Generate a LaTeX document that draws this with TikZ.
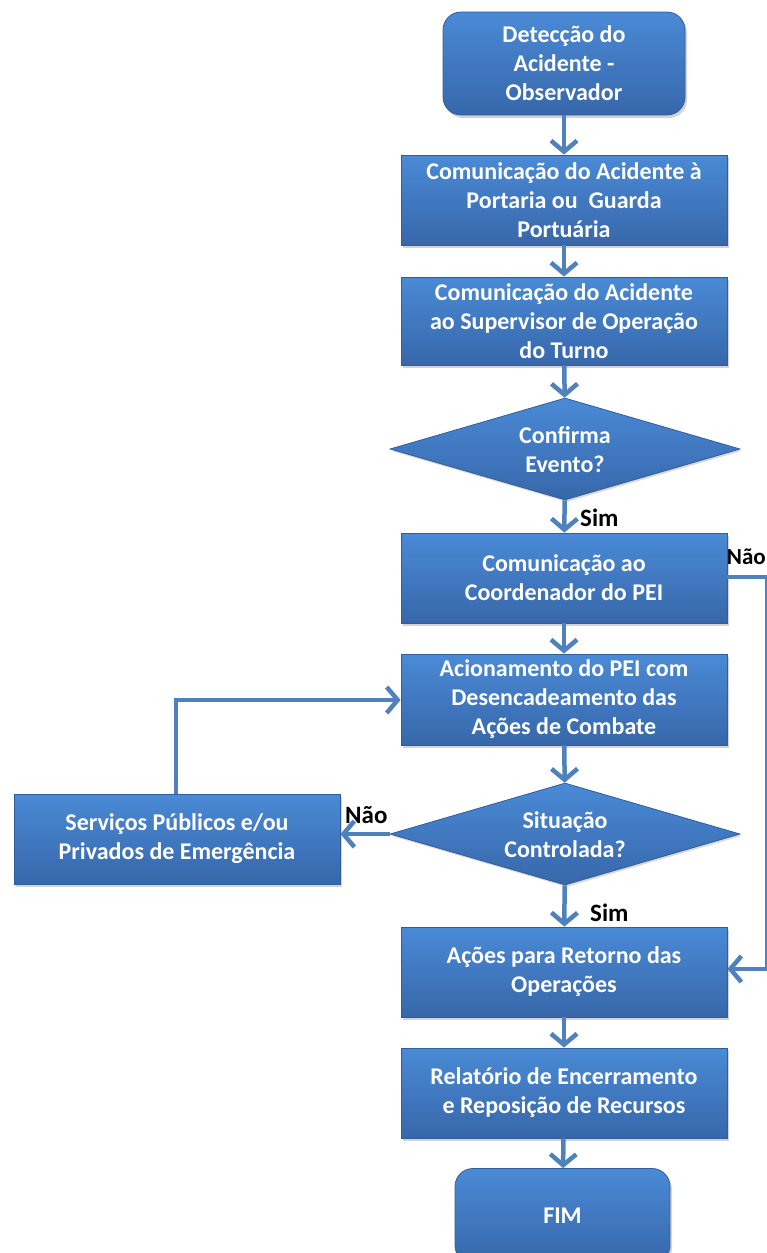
\documentclass[tikz,border=0pt]{standalone}
\usepackage{fontspec}
\setmainfont{Carlito}
\usetikzlibrary{arrows.meta,shapes.geometric,shadows}
\definecolor{boxtop}{HTML}{4A8AD6}
\definecolor{boxbot}{HTML}{3767AA}
\definecolor{boxedge}{HTML}{2F5E9E}
\definecolor{arrowblue}{HTML}{4F81BD}
\tikzset{
  flowbox/.style={rectangle, top color=boxtop, bottom color=boxbot, draw=boxedge, line width=0.8pt,
    text=white, font=\fontsize{24}{29}\selectfont\bfseries, align=center,
    minimum width=326pt, minimum height=90pt, inner sep=0pt,
    drop shadow={opacity=0.35, shadow xshift=2pt, shadow yshift=-3pt}},
  roundbox/.style={flowbox, rounded corners=18pt},
  decision/.style={diamond, top color=boxtop, bottom color=boxbot, draw=boxedge, line width=0.8pt,
    minimum width=350pt, minimum height=102pt, inner sep=0pt,
    drop shadow={opacity=0.3, shadow xshift=1.5pt, shadow yshift=-2pt}},
  dtext/.style={text=white, font=\fontsize{24}{29}\selectfont\bfseries, align=center, inner sep=0pt},
  flowarrow/.style={draw=arrowblue, line width=4.5pt, -{Straight Barb[length=11pt,width=26pt,line width=4.5pt]}},
  flowline/.style={draw=arrowblue, line width=4.5pt},
  lbl/.style={font=\fontsize{25}{28}\selectfont\bfseries, text=black, inner sep=0pt}
}
\begin{document}
\begin{tikzpicture}[x=1pt,y=-1pt]
\useasboundingbox (0,0) rectangle (766,1253);
\node[roundbox, minimum width=242pt, minimum height=103pt] (det) at (564,63.5) {Detecção do\\Acidente -\\Observador};
\node[flowbox] (port) at (564,200) {Comunicação do Acidente à\\Portaria ou\ \ Guarda\\Portuária};
\node[flowbox, minimum height=88pt] (sup) at (564,321) {Comunicação do Acidente\\ao Supervisor de Operação\\do Turno};
\node[decision] (conf) at (565,449) {};
\node[dtext] (confT) at (565,450) {Confirma\\Evento?};
\node[flowbox] (coord) at (564,578) {Comunicação ao\\Coordenador do PEI};
\node[flowbox, minimum height=91pt] (acion) at (564,699.5) {Acionamento do PEI com\\Desencadeamento das\\Ações de Combate};
\node[decision] (sit) at (565,834) {};
\node[dtext] (sitT) at (565,835) {Situação\\Controlada?};
\node[flowbox] (serv) at (177,839) {Serviços Públicos e/ou\\Privados de Emergência};
\node[flowbox] (ret) at (564,972) {Ações para Retorno das\\Operações};
\node[flowbox] (rel) at (564,1093) {Relatório de Encerramento\\e Reposição de Recursos};
\node[roundbox, minimum width=215pt, minimum height=95pt] (fim) at (562.5,1216) {FIM};

\coordinate (rtop) at (767,577);
\coordinate (rbot) at (767,969);
\coordinate (lcorner) at (176,700);

\draw[flowarrow] (det) -- (port);
\draw[flowarrow] (port) -- (sup);
\draw[flowarrow] (sup) -- (conf);
\draw[flowarrow] (conf) -- (coord);
\draw[flowarrow] (coord) -- (acion);
\draw[flowarrow] (acion) -- (sit);
\draw[flowarrow] (sit) -- (ret);
\draw[flowarrow] (ret) -- (rel);
\draw[flowarrow] (rel) -- (fim);
\draw[flowarrow] (sit.west) -- (serv.east |- sit.west);
\draw[flowarrow] (serv.north -| lcorner) -- (lcorner) -- (acion.west |- lcorner);
\draw[flowline] (coord.east |- rtop) -- (rtop) -- (rbot);
\draw[flowarrow] (rbot) -- (ret.east |- rbot);

\node[lbl, anchor=west] (sim1) at (580,518) {Sim};
\node[lbl, anchor=west] (sim2) at (590,913) {Sim};
\node[lbl, anchor=east, font=\fontsize{23}{26}\selectfont\bfseries] (nao1) at (766,557) {Não};
\node[lbl, anchor=west] (nao2) at (345,815) {Não};
\end{tikzpicture}
\end{document}
